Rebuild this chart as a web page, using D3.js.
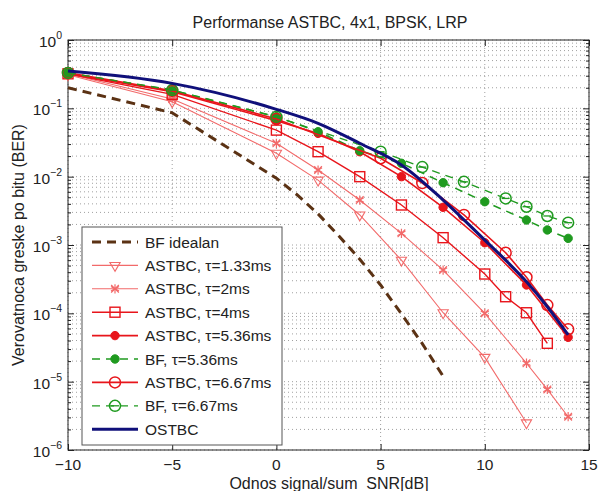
<!DOCTYPE html>
<html>
<head>
<meta charset="utf-8">
<script src="https://cdn.jsdelivr.net/npm/d3@7"></script>
<style>
  body { margin: 0; background: #fff; }
  svg { font-family: "Liberation Sans", Arial, sans-serif; }
</style>
</head>
<body>
<svg id="chart" width="598" height="491"></svg>
<script>
// values (SNR in dB, BER)
var snrIdeal = [-10, -5, 0, 1, 2, 3, 4, 5, 6, 7, 8];
var berIdeal = [0.2, 0.086, 9.5e-3, 5.4e-3, 2.85e-3, 1.35e-3, 6.2e-4, 2.6e-4, 9.8e-5, 3.6e-5, 1.2e-5];

var snr133 = [-10, -5, 0, 2, 4, 6, 8, 10, 12];
var ber133 = [0.31, 0.125, 0.022, 8.9e-3, 2.75e-3, 6.0e-4, 1.02e-4, 2.27e-5, 2.5e-6];

var snr2 = [-10, -5, 0, 2, 4, 6, 8, 10, 12, 13, 14];
var ber2 = [0.32, 0.137, 0.0308, 0.0125, 4.55e-3, 1.48e-3, 4.3e-4, 1.0e-4, 1.86e-5, 7.7e-6, 3.07e-6];

var snr4 = [-10, -5, 0, 2, 4, 6, 8, 10, 11, 12, 13];
var ber4 = [0.32, 0.16, 0.048, 0.0232, 0.01, 3.85e-3, 1.28e-3, 3.76e-4, 1.75e-4, 1.02e-4, 3.64e-5];

var snr536 = [-10, -5, 0, 2, 4, 6, 8, 10, 12, 14];
var ber536 = [0.32, 0.175, 0.066, 0.043, 0.0232, 0.01, 3.56e-3, 1.08e-3, 2.6e-4, 4.45e-5];

var snrBf536 = [-10, -5, 0, 2, 4, 6, 8, 10, 12, 13, 14];
var berBf536 = [0.33, 0.185, 0.0755, 0.0455, 0.024, 0.0157, 8.16e-3, 4.3e-3, 2.32e-3, 1.66e-3, 1.25e-3];

var snr667 = [-10, -5, 0, 5, 7, 9, 11, 12, 13, 14];
var ber667 = [0.33, 0.18, 0.07, 0.0186, 8.07e-3, 2.75e-3, 7.7e-4, 3.37e-4, 1.32e-4, 5.83e-5];

var snrBf667 = [-10, -5, 0, 5, 7, 9, 11, 12, 13, 14];
var berBf667 = [0.33, 0.185, 0.075, 0.0232, 0.0138, 8.4e-3, 4.8e-3, 3.63e-3, 2.66e-3, 2.12e-3];

var snrOstbc = [-10, -5, 0, 2, 4, 6, 8, 10, 11, 12, 13, 14];
var berOstbc = [0.352, 0.232, 0.0967, 0.0604, 0.0308, 0.0148, 4.55e-3, 1.18e-3, 6.0e-4, 2.9e-4, 1.25e-4, 4.82e-5];

var xTicks = [-10, -5, 0, 5, 10, 15];
var yExponents = [0, -1, -2, -3, -4, -5, -6];

var titleText = "Performanse ASTBC, 4x1, BPSK, LRP";
var xLabelText = "Odnos signal/sum  SNR[dB]";
var yLabelText = "Verovatnoca greske po bitu (BER)";

var lightRed = "#f26a6a", red = "#e8151b", green = "#1f9a1f", navy = "#10107a", brown = "#5b3214";

// series table: name, data, style
var series = [
  {name: "BF idealan", x: snrIdeal, y: berIdeal, color: brown, width: 3, dash: "9,6", marker: null},
  {name: "ASTBC, \u03c4=1.33ms", x: snr133, y: ber133, color: lightRed, width: 1.1, dash: null, marker: "triDown"},
  {name: "ASTBC, \u03c4=2ms", x: snr2, y: ber2, color: lightRed, width: 1.1, dash: null, marker: "star"},
  {name: "ASTBC, \u03c4=4ms", x: snr4, y: ber4, color: red, width: 1.4, dash: null, marker: "square"},
  {name: "ASTBC, \u03c4=5.36ms", x: snr536, y: ber536, color: red, width: 1.6, dash: null, marker: "dot"},
  {name: "BF, \u03c4=5.36ms", x: snrBf536, y: berBf536, color: green, width: 1.5, dash: "8,6", marker: "dot"},
  {name: "ASTBC, \u03c4=6.67ms", x: snr667, y: ber667, color: red, width: 1.6, dash: null, marker: "circle"},
  {name: "BF, \u03c4=6.67ms", x: snrBf667, y: berBf667, color: green, width: 1.3, dash: "8,6", marker: "circleBar"},
  {name: "OSTBC", x: snrOstbc, y: berOstbc, color: navy, width: 3, dash: null, marker: null}
];

var margin = {top: 40, right: 9, bottom: 41, left: 68},
    W = 598, H = 491,
    width = W - margin.left - margin.right,
    height = H - margin.top - margin.bottom;

var x = d3.scaleLinear().domain([-10, 15]).range([0, width]);
var y = d3.scaleLog().domain([1e-6, 1]).range([height, 0]);

var svg = d3.select("#chart");
var g = svg.append("g").attr("transform", "translate(" + margin.left + "," + margin.top + ")");

// grid: every decade plus minor log lines, x only on majors
var minor = [];
yExponents.forEach(e => {
  if (e < 0) {
    for (let k = 2; k <= 9; k++) minor.push(k * Math.pow(10, e));
  }
});

g.selectAll(".ygrid")
  .data(minor.concat(yExponents.map(e => Math.pow(10, e))))
  .enter().append("line")
  .attr("x1", 0).attr("x2", width)
  .attr("y1", d => y(d)).attr("y2", d => y(d))
  .style("stroke", "#a0a0a0")
  .style("stroke-width", 1)
  .style("stroke-dasharray", "1,3");

g.selectAll(".xgrid")
  .data(xTicks)
  .enter().append("line")
  .attr("x1", d => x(d)).attr("x2", d => x(d))
  .attr("y1", 0).attr("y2", height)
  .style("stroke", "#a0a0a0")
  .style("stroke-width", 1)
  .style("stroke-dasharray", "1,3");

// axes with inward ticks on all sides
var yAxisL = d3.axisLeft(y).tickValues(yExponents.map(e => Math.pow(10, e))).tickSizeInner(-6).tickSizeOuter(0).tickFormat("");
var yAxisR = d3.axisRight(y).tickValues(yExponents.map(e => Math.pow(10, e))).tickSizeInner(-6).tickSizeOuter(0).tickFormat("");
var yMinorL = d3.axisLeft(y).tickValues(minor).tickSizeInner(-3).tickSizeOuter(0).tickFormat("");
var yMinorR = d3.axisRight(y).tickValues(minor).tickSizeInner(-3).tickSizeOuter(0).tickFormat("");
var xAxisB = d3.axisBottom(x).tickValues(xTicks).tickSizeInner(-6).tickSizeOuter(0).tickFormat("");
var xAxisT = d3.axisTop(x).tickValues(xTicks).tickSizeInner(-6).tickSizeOuter(0).tickFormat("");

g.append("g").call(yAxisL);
g.append("g").call(yMinorL);
g.append("g").attr("transform", "translate(" + width + ",0)").call(yAxisR);
g.append("g").attr("transform", "translate(" + width + ",0)").call(yMinorR);
g.append("g").attr("transform", "translate(0," + height + ")").call(xAxisB);
g.append("g").call(xAxisT);
g.selectAll(".domain").remove();
g.selectAll(".tick line").style("stroke", "#222");

g.append("rect")
  .attr("width", width).attr("height", height)
  .style("fill", "none").style("stroke", "#222").style("stroke-width", 1);

// tick labels
var yLab = g.selectAll(".ylab")
  .data(yExponents)
  .enter().append("text")
  .attr("x", -6)
  .attr("y", d => y(Math.pow(10, d)) + 7)
  .style("text-anchor", "end")
  .style("font-size", "15.5px")
  .style("fill", "#222");
yLab.append("tspan").text("10");
yLab.append("tspan").attr("dy", -8).style("font-size", "10.5px").text(d => d === 0 ? "0" : "\u2212" + (-d));

g.selectAll(".xlab")
  .data(xTicks)
  .enter().append("text")
  .attr("x", d => x(d))
  .attr("y", height + 20)
  .style("text-anchor", "middle")
  .style("font-size", "15.5px")
  .style("fill", "#222")
  .text(d => d < 0 ? "\u2212" + (-d) : d);

svg.append("text")
  .attr("x", 330).attr("y", 28)
  .style("text-anchor", "middle").style("font-size", "16px").style("fill", "#222")
  .text(titleText);

svg.append("text")
  .attr("x", 329).attr("y", 489)
  .attr("xml:space", "preserve")
  .style("white-space", "pre")
  .style("text-anchor", "middle").style("font-size", "16px").style("fill", "#222")
  .text(xLabelText);

svg.append("text")
  .attr("transform", "translate(24," + (margin.top + height / 2) + ") rotate(-90)")
  .style("text-anchor", "middle").style("font-size", "16px").style("fill", "#222")
  .text(yLabelText);

// markers
function drawMarker(sel, type, color) {
  if (type === "triDown") {
    sel.append("path")
      .attr("d", d3.symbol().type(d3.symbolTriangle2).size(75)())
      .attr("transform", "rotate(180)")
      .style("fill", "none").style("stroke", color).style("stroke-width", 1.1);
  } else if (type === "star") {
    sel.append("path")
      .attr("d", d3.symbol().type(d3.symbolAsterisk).size(60)())
      .style("fill", "none").style("stroke", color).style("stroke-width", 1.2);
    sel.append("path")
      .attr("d", d3.symbol().type(d3.symbolTimes).size(40)())
      .style("fill", "none").style("stroke", color).style("stroke-width", 1.2);
  } else if (type === "square") {
    sel.append("rect")
      .attr("x", -5).attr("y", -5).attr("width", 10).attr("height", 10)
      .style("fill", "none").style("stroke", color).style("stroke-width", 1.4);
  } else if (type === "dot") {
    sel.append("circle").attr("r", 4.2).style("fill", color).style("stroke", color);
  } else if (type === "circle" || type === "circleBar") {
    sel.append("circle").attr("r", 5.5)
      .style("fill", "none").style("stroke", color).style("stroke-width", 1.5);
    if (type === "circleBar") {
      sel.append("line").attr("x1", -4).attr("x2", 4)
        .style("stroke", color).style("stroke-width", 1.3);
    }
  }
}

var line = d3.line().x(d => x(d[0])).y(d => y(d[1]));

series.forEach(s => {
  var pts = s.x.map((v, i) => [v, s.y[i]]);
  var path = g.append("path")
    .datum(pts)
    .attr("d", s.name === "OSTBC" ? line.curve(d3.curveMonotoneX)(pts) : line.curve(d3.curveLinear)(pts))
    .style("fill", "none")
    .style("stroke", s.color)
    .style("stroke-width", s.width);
  if (s.dash) path.style("stroke-dasharray", s.dash);
  if (s.marker) {
    var m = g.selectAll(null)
      .data(pts)
      .enter().append("g")
      .attr("transform", d => "translate(" + x(d[0]) + "," + y(d[1]) + ")");
    drawMarker(m, s.marker, s.color);
  }
});

// legend
var legX = 82, legY = 227, legW = 200, legH = 218, rowH = 23.4;
var legend = svg.append("g");
legend.append("rect")
  .attr("x", legX).attr("y", legY).attr("width", legW).attr("height", legH)
  .style("fill", "#fff").style("stroke", "#555").style("stroke-width", 1);

var rows = legend.selectAll(".legend")
  .data(series)
  .enter().append("g")
  .attr("class", "legend")
  .attr("transform", (d, i) => "translate(" + legX + "," + (legY + 15 + i * rowH) + ")");

rows.append("line")
  .attr("x1", 10).attr("x2", 56)
  .style("stroke", d => d.color)
  .style("stroke-width", d => d.width)
  .style("stroke-dasharray", d => d.dash ? d.dash : null);

rows.each(function(d) {
  if (d.marker) {
    var mg = d3.select(this).append("g").attr("transform", "translate(33,0)");
    drawMarker(mg, d.marker, d.color);
  }
});

rows.append("text")
  .attr("x", 63)
  .attr("y", 5.5)
  .style("font-size", "15.5px")
  .style("fill", "#222")
  .text(d => d.name);
</script>
</body>
</html>
